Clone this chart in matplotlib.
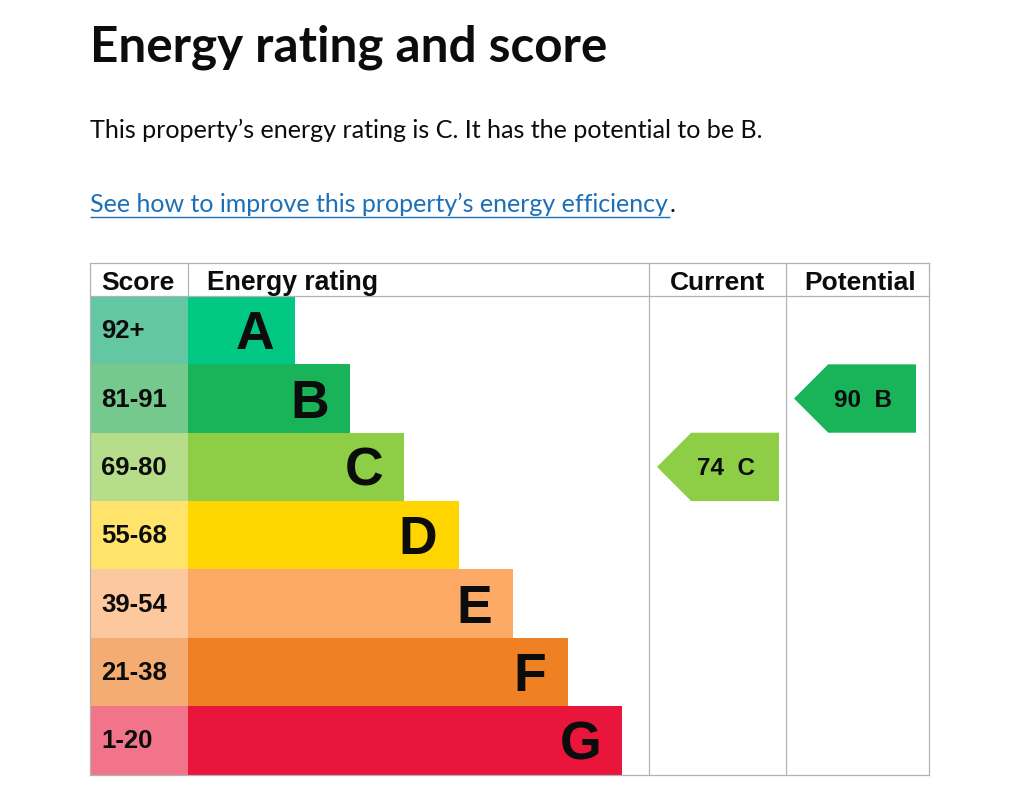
import matplotlib
matplotlib.use("Agg")
import matplotlib.pyplot as plt
from matplotlib.patches import Polygon
import numpy as np

# data
bands = ["A", "B", "C", "D", "E", "F", "G"]
score_ranges = ["92+", "81-91", "69-80", "55-68", "39-54", "21-38", "1-20"]
bar_units = [2, 3, 4, 5, 6, 7, 8]
band_colors = ["#00c781", "#19b459", "#8dce46", "#ffd500", "#fcaa65", "#ef8023", "#e9153b"]
score_colors = ["#64c7a3", "#75c98c", "#b6de8a", "#ffe36a", "#fdc89e", "#f4ac72", "#f2748a"]
headers = ["Score", "Energy rating", "Current", "Potential"]
current_score, current_band = 74, "C"
potential_score, potential_band = 90, "B"

title = "Energy rating and score"
summary = "This property\u2019s energy rating is C. It has the potential to be B."
link = "See how to improve this property\u2019s energy efficiency"

LINE = "#b1b4b6"
LINK = "#1d70b8"
TXT = "#0b0c0c"

fig = plt.figure(figsize=(10.24, 8.1), dpi=100)
ax = fig.add_axes([0, 0, 1, 1])
ax.set_xlim(0, 1024)
ax.set_ylim(810, 0)
ax.axis("off")
renderer = fig.canvas.get_renderer()


def fit(t, width):
    # scale the font so the text spans the wanted pixel width
    w = t.get_window_extent(renderer).width
    t.set_fontsize(t.get_fontsize() * width / w)
    return t


# heading + text
fit(ax.text(90, 61, title, fontsize=36, fontweight="bold", family="Lato",
            color=TXT, va="baseline"), 516)
fit(ax.text(90, 138, summary, fontsize=17, family="Lato", color=TXT,
            va="baseline"), 675)
lt = fit(ax.text(90, 212, link, fontsize=17, family="Lato", color=LINK,
                 va="baseline"), 580)
ax.text(670, 212, ".", fontsize=lt.get_fontsize(), family="Lato", color=TXT,
        va="baseline")
ax.plot([90, 670], [216.5, 216.5], color=LINK, lw=1.0, solid_capstyle="butt")

# table geometry
left, right = 90, 929
top, head_bot, bottom = 263, 296, 774.5
score_right = 188
cur_left, pot_left = 649, 786
row_h = (bottom - head_bot) / len(bands)
unit = 54.5
y_centers = head_bot + (np.arange(len(bands)) + 0.5) * row_h
bar_len = np.array(bar_units) * unit - 2

# score cells and rating bars
ax.barh(y_centers, score_right - left, left=left, height=row_h,
        color=score_colors, linewidth=0)
ax.barh(y_centers, bar_len, left=score_right, height=row_h,
        color=band_colors, linewidth=0)

for yc, sr, b, L in zip(y_centers, score_ranges, bands, bar_len):
    ax.text(101, yc + 8, sr, fontsize=18.5, fontweight="bold",
            family="Liberation Sans", color=TXT, va="baseline")
    ax.text(score_right + L - 21, yc + 19, b, fontsize=38.5,
            fontweight="bold", family="Liberation Sans", color=TXT,
            va="baseline", ha="right")

# grid lines
lw = 0.9
ax.plot([left, right], [top, top], color=LINE, lw=lw)
ax.plot([left, right], [head_bot, head_bot], color=LINE, lw=lw)
ax.plot([left, right], [bottom, bottom], color=LINE, lw=lw)
ax.plot([left, left], [top, bottom], color=LINE, lw=lw)
ax.plot([right, right], [top, bottom], color=LINE, lw=lw)
ax.plot([score_right, score_right], [top, head_bot], color=LINE, lw=lw)
ax.plot([cur_left, cur_left], [top, bottom], color=LINE, lw=lw)
ax.plot([pot_left, pot_left], [top, bottom], color=LINE, lw=lw)

# headers
hy = 290
ax.text(101, hy, headers[0], fontsize=19, fontweight="bold",
        family="Liberation Sans", color=TXT, va="baseline")
ax.text(207, hy, headers[1], fontsize=19.2, fontweight="bold",
        family="Liberation Sans", color=TXT, va="baseline")
ax.text((cur_left + pot_left) / 2, hy, headers[2], fontsize=19,
        fontweight="bold", family="Liberation Sans", color=TXT,
        va="baseline", ha="center")
ax.text((pot_left + right) / 2 + 3, hy, headers[3], fontsize=19,
        fontweight="bold", family="Liberation Sans", color=TXT,
        va="baseline", ha="center")


def arrow(col_left, score, band):
    i = bands.index(band)
    yc = y_centers[i]
    half = row_h / 2
    tip = col_left + 8
    x_right = tip + 122
    pts = [(tip, yc), (tip + half, yc - half), (x_right, yc - half),
           (x_right, yc + half), (tip + half, yc + half)]
    ax.add_patch(Polygon(pts, closed=True, facecolor=band_colors[i],
                         edgecolor="none"))
    ax.text(tip + 40, yc + 8, f"{score}  {band}", fontsize=17.5,
            fontweight="bold", family="Liberation Sans", color=TXT,
            va="baseline")


arrow(cur_left, current_score, current_band)
arrow(pot_left, potential_score, potential_band)

fig.savefig("out.png", dpi=100)
